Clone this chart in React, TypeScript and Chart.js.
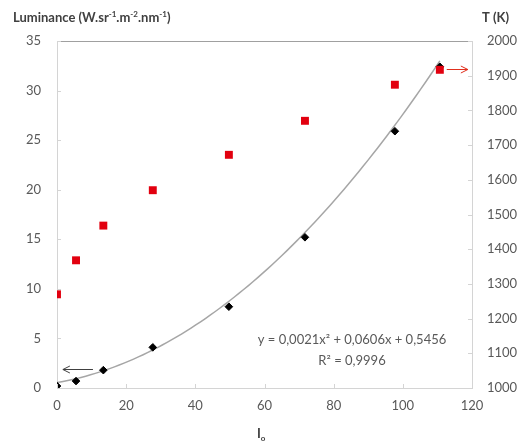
import React, { useEffect, useRef } from "react";
import { Chart, registerables } from "chart.js";

Chart.register(...registerables);

// Current I0 (x values shared by both series)
const X_VALUES = [0, 5.5, 13.4, 27.7, 49.7, 71.7, 97.7, 110.7];
// Luminance (W.sr-1.m-2.nm-1), left axis
const LUMINANCE = [0.2, 0.7, 1.8, 4.1, 8.2, 15.2, 25.9, 32.4];
// Temperature (K), right axis
const TEMPERATURE = [1270, 1368, 1468, 1570, 1672, 1770, 1874, 1917];
// Polynomial trendline shown on the chart: y = a x^2 + b x + c
const TREND_COEFFS = [0.0021, 0.0606, 0.5456];
const TREND_X_RANGE = [0, 110.7];
const TREND_SAMPLES = 80;

const X_TICKS = [0, 20, 40, 60, 80, 100, 120];
const Y_LEFT_TICKS = [0, 5, 10, 15, 20, 25, 30, 35];
const Y_RIGHT_TICKS = [1000, 1100, 1200, 1300, 1400, 1500, 1600, 1700, 1800, 1900, 2000];

const EQUATION_TEXT = ["y = 0,0021x\u00b2 + 0,0606x + 0,5456", "R\u00b2 = 0,9996"];

const FONT = "Lato, 'Open Sans', sans-serif";
const TEXT_COLOR = "#595959";
const AXIS_COLOR = "#d4d4d4";

function trendPoints() {
  const [a, b, c] = TREND_COEFFS;
  const pts: { x: number; y: number }[] = [];
  for (let i = 0; i <= TREND_SAMPLES; i++) {
    const x = TREND_X_RANGE[0] + ((TREND_X_RANGE[1] - TREND_X_RANGE[0]) * i) / TREND_SAMPLES;
    pts.push({ x, y: a * x * x + b * x + c });
  }
  return pts;
}

function drawArrow(ctx: CanvasRenderingContext2D, x1: number, y1: number, x2: number, y2: number, color: string) {
  ctx.save();
  ctx.strokeStyle = color;
  ctx.lineWidth = 1;
  ctx.beginPath();
  ctx.moveTo(x1, y1);
  ctx.lineTo(x2, y2);
  const dir = Math.sign(x2 - x1);
  ctx.moveTo(x2 - dir * 7, y2 - 3.5);
  ctx.lineTo(x2, y2);
  ctx.lineTo(x2 - dir * 7, y2 + 3.5);
  ctx.stroke();
  ctx.restore();
}

function drawSegments(
  ctx: CanvasRenderingContext2D,
  x: number,
  y: number,
  segs: { t: string; sup?: boolean; sub?: boolean }[],
  size: number
) {
  let cx = x;
  for (const s of segs) {
    const fs = s.sup || s.sub ? Math.round(size * 0.65) : size;
    ctx.font = `bold ${fs}px ${FONT}`;
    const dy = s.sup ? -size * 0.38 : s.sub ? size * 0.22 : 0;
    ctx.fillText(s.t, cx, y + dy);
    cx += ctx.measureText(s.t).width;
  }
}

const decorPlugin = {
  id: "decor",
  afterDatasetsDraw(chart: any) {
    const { ctx, chartArea, scales } = chart;
    const { left, right, top, bottom } = chartArea;
    ctx.save();
    // top border
    ctx.strokeStyle = "#a0a0a0";
    ctx.lineWidth = 1;
    ctx.beginPath();
    ctx.moveTo(left, top + 0.5);
    ctx.lineTo(right, top + 0.5);
    ctx.stroke();
    // inward tick marks
    ctx.strokeStyle = AXIS_COLOR;
    ctx.beginPath();
    for (const v of Y_LEFT_TICKS) {
      const y = Math.round(scales.y.getPixelForValue(v)) + 0.5;
      ctx.moveTo(left, y);
      ctx.lineTo(left + 4, y);
    }
    for (const v of Y_RIGHT_TICKS) {
      const y = Math.round(scales.y1.getPixelForValue(v)) + 0.5;
      ctx.moveTo(right, y);
      ctx.lineTo(right - 4, y);
    }
    for (const v of X_TICKS) {
      const x = Math.round(scales.x.getPixelForValue(v)) + 0.5;
      ctx.moveTo(x, bottom);
      ctx.lineTo(x, bottom - 4);
    }
    ctx.stroke();

    // arrows
    drawArrow(
      ctx,
      scales.x.getPixelForValue(10.4),
      Math.round(scales.y.getPixelForValue(1.9)) + 0.5,
      scales.x.getPixelForValue(1.7),
      Math.round(scales.y.getPixelForValue(1.9)) + 0.5,
      "#404040"
    );
    drawArrow(
      ctx,
      scales.x.getPixelForValue(112.7),
      Math.round(scales.y1.getPixelForValue(1920)) + 0.5,
      scales.x.getPixelForValue(118.8),
      Math.round(scales.y1.getPixelForValue(1920)) + 0.5,
      "#e0301e"
    );

    // equation
    ctx.fillStyle = TEXT_COLOR;
    ctx.font = `13px ${FONT}`;
    ctx.textAlign = "center";
    ctx.textBaseline = "middle";
    ctx.fillText(EQUATION_TEXT[0], 352, 340);
    ctx.fillText(EQUATION_TEXT[1], 352, 361);

    // axis titles
    ctx.textAlign = "left";
    ctx.textBaseline = "alphabetic";
    ctx.fillStyle = "#404040";
    drawSegments(
      ctx,
      13,
      22,
      [
        { t: "Luminance (W.sr" },
        { t: "-1", sup: true },
        { t: ".m" },
        { t: "-2", sup: true },
        { t: ".nm" },
        { t: "-1", sup: true },
        { t: ")" },
      ],
      13
    );
    drawSegments(ctx, 482, 22, [{ t: "T (K)" }], 13);
    drawSegments(ctx, 257, 438, [{ t: "I" }, { t: "o", sub: true }], 13);
    ctx.restore();
  },
};

export default function App() {
  const ref = useRef<HTMLCanvasElement | null>(null);
  useEffect(() => {
    if (!ref.current) return;
    const tickFont = { family: FONT, size: 13 };
    const plain = (v: any) => String(v);
    const chart = new Chart(ref.current, {
      type: "scatter",
      data: {
        datasets: [
          {
            label: "Luminance",
            data: X_VALUES.map((x, i) => ({ x, y: LUMINANCE[i] })),
            yAxisID: "y",
            pointStyle: "rectRot",
            pointRadius: 3.8,
            backgroundColor: "#000000",
            borderColor: "#000000",
            order: 1,
          },
          {
            label: "T",
            data: X_VALUES.map((x, i) => ({ x, y: TEMPERATURE[i] })),
            yAxisID: "y1",
            pointStyle: "rect",
            pointRadius: 5.6,
            backgroundColor: "#e2000f",
            borderColor: "#e2000f",
            borderWidth: 0,
            order: 0,
          },
          {
            label: "Trend",
            type: "line",
            data: trendPoints(),
            yAxisID: "y",
            borderColor: "#a6a6a6",
            borderWidth: 1.5,
            pointRadius: 0,
            showLine: true,
            fill: false,
            order: 2,
          } as any,
        ],
      },
      options: {
        animation: false,
        responsive: false,
        layout: { padding: { top: 41, left: 0, right: 0, bottom: 0 } },
        plugins: { legend: { display: false }, tooltip: { enabled: false } },
        scales: {
          x: {
            type: "linear",
            min: 0,
            max: 120,
            afterBuildTicks: (s: any) => {
              s.ticks = X_TICKS.map((v) => ({ value: v }));
            },
            afterFit: (s: any) => {
              s.height = 58;
            },
            grid: { display: false, drawTicks: false },
            border: { display: true, color: AXIS_COLOR, width: 1 },
            ticks: { color: TEXT_COLOR, font: tickFont, padding: 10, maxRotation: 0, callback: plain },
          },
          y: {
            type: "linear",
            position: "left",
            min: 0,
            max: 35,
            afterBuildTicks: (s: any) => {
              s.ticks = Y_LEFT_TICKS.map((v) => ({ value: v }));
            },
            afterFit: (s: any) => {
              s.width = 57;
            },
            grid: { display: false, drawTicks: false },
            border: { display: true, color: AXIS_COLOR, width: 1 },
            ticks: { color: TEXT_COLOR, font: tickFont, padding: 16, callback: plain },
          },
          y1: {
            type: "linear",
            position: "right",
            min: 1000,
            max: 2000,
            afterBuildTicks: (s: any) => {
              s.ticks = Y_RIGHT_TICKS.map((v) => ({ value: v }));
            },
            afterFit: (s: any) => {
              s.width = 51;
            },
            grid: { display: false, drawTicks: false },
            border: { display: true, color: AXIS_COLOR, width: 1 },
            ticks: { color: TEXT_COLOR, font: tickFont, padding: 15, callback: plain },
          },
        },
      },
      plugins: [decorPlugin],
    } as any);
    return () => chart.destroy();
  }, []);
  return (
    <div style={{ position: "fixed", left: 0, top: 0, width: 523, height: 446, background: "#fff" }}>
      <canvas ref={ref} width={523} height={446} style={{ display: "block" }} />
    </div>
  );
}
